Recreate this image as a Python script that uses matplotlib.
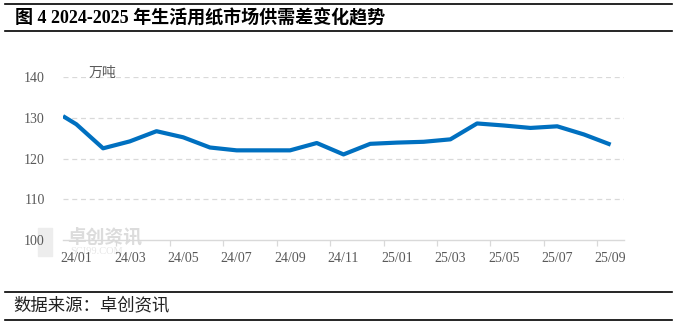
import matplotlib
matplotlib.use("Agg")
import matplotlib.pyplot as plt
import numpy as np
from matplotlib.lines import Line2D
from matplotlib.patches import Rectangle

plt.rcParams['font.family'] = ['Liberation Serif', 'Noto Sans CJK SC', 'DejaVu Sans']

# monthly supply-demand gap, 24/01 .. 25/09 (10k tonnes)
months = ["24/01", "24/02", "24/03", "24/04", "24/05", "24/06", "24/07",
          "24/08", "24/09", "24/10", "24/11", "24/12", "25/01", "25/02",
          "25/03", "25/04", "25/05", "25/06", "25/07", "25/08", "25/09"]
values = [128.4, 122.5, 124.2, 126.7, 125.2, 122.7, 122.0,
          122.0, 122.0, 123.8, 121.0, 123.6, 123.9, 124.1,
          124.7, 128.6, 128.1, 127.5, 127.9, 125.9, 123.4]
# line enters the plot at the left edge with this value
start_value = 130.4
yticks = [100, 110, 120, 130, 140]

fig = plt.figure(figsize=(6.77, 3.24), dpi=100)

# watermark (behind everything)
fig.patches.append(Rectangle((38 / 677, 1 - 256 / 324), 14 / 677, 28 / 324,
                             transform=fig.transFigure, color='#EDEDED', zorder=-5))
fig.text(67 / 677, 1 - 237 / 324, "卓创资讯", fontsize=13.5, color='#DCDCDC',
         family=['Noto Sans CJK SC'], va='center', ha='left', fontweight='bold', zorder=-5)
fig.text(70 / 677, 1 - 252 / 324, "SCI99.COM", fontsize=7.5, color='#E6E6E6',
         va='center', ha='left', zorder=-5)

ax = fig.add_axes([63 / 677, 1 - 240 / 324, (624 - 63) / 677, (240 - 77) / 324])
ax.patch.set_alpha(0)

x = np.arange(len(months))
ax.plot(np.r_[-0.5, x], np.r_[start_value, values], color='#0070C0', lw=3.0,
        solid_joinstyle='round', solid_capstyle='butt', zorder=3)

ax.set_xlim(-0.5, len(months) - 0.5)
ax.set_ylim(100, 140)
ax.set_yticks(yticks)
for v in yticks[1:]:
    ax.axhline(v, color='#D9D9D9', lw=0.9, ls=(0, (4, 3)), zorder=1)

for s in ['top', 'right', 'left']:
    ax.spines[s].set_visible(False)
ax.spines['bottom'].set_color('#D9D9D9')
ax.spines['bottom'].set_linewidth(1.0)

ax.tick_params(axis='y', length=0, pad=13, labelsize=10, labelcolor='#595959')
# labels every two months, tick marks on category boundaries
ax.set_xticks(x[::2])
ax.set_xticklabels(months[::2])
ax.set_xticks(np.arange(-0.5, len(months), 2)[1:], minor=True)
ax.tick_params(axis='x', which='major', length=0, pad=9, labelsize=10,
               labelcolor='#595959')
ax.tick_params(axis='x', which='minor', length=4, width=0.9, color='#D9D9D9')

ax.text(0.45, 140.9, "万吨", fontsize=10, color='#595959', ha='left', va='center',
        family=['Noto Sans CJK SC'], clip_on=False)

# title and footer frame
for yy in [4, 31, 292, 320]:
    fig.add_artist(Line2D([5 / 677, 672 / 677], [1 - yy / 324] * 2, color='black',
                          lw=1.2, transform=fig.transFigure))
fig.text(15 / 677, 1 - 18 / 324, "图 4 2024-2025 年生活用纸市场供需差变化趋势",
         fontsize=13, fontweight='bold', color='black', va='center', ha='left')
fig.text(13 / 677, 1 - 305 / 324, "数据来源：卓创资讯", fontsize=12.5,
         color='#222222', va='center', ha='left', family=['Noto Sans CJK SC'])

fig.savefig("out.png", dpi=100)
